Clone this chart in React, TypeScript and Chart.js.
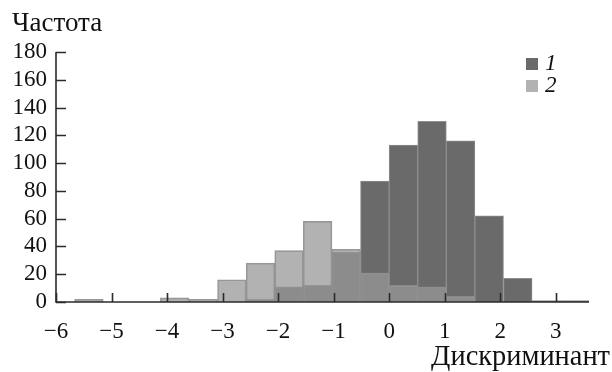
import React, { useEffect, useRef } from "react";
import { Chart, registerables } from "chart.js";

Chart.register(...registerables);

// Histogram bins (centres, bin width ≈ 0.515)
const binCenters = [
  -5.4075, -4.8925, -4.3775, -3.8625, -3.3475, -2.8325, -2.3175, -1.8025, -1.2875,
  -0.7725, -0.2575, 0.2575, 0.7725, 1.2875, 1.8025, 2.3175, 2.8325, 3.3475,
];
const series1 = [0, 0, 0, 0, 0, 0, 2, 11, 12, 36, 87, 113, 130, 116, 62, 17, 1, 1];
const series2 = [2, 0, 0, 3, 2, 16, 28, 37, 58, 38, 21, 12, 11, 4, 0, 0, 0, 0];
const seriesLabels = ["1", "2"];
const xTicks = [-6, -5, -4, -3, -2, -1, 0, 1, 2, 3];
const yTicks = [0, 20, 40, 60, 80, 100, 120, 140, 160, 180];
const xMin = -6;
const xMax = 3.6;
const yMax = 180;
const yTitle = "Частота";
const xTitle = "Дискриминант";

const FONT = "'Liberation Serif', 'Times New Roman', serif";
const DARK = "#6a6a6a";
const LIGHT_FILL = "rgba(152,152,152,0.75)";
const LIGHT_SWATCH = "#b2b2b2";
const AXIS = "#2b2b2b";

const fmt = (v: number) => (v < 0 ? "\u2212" + Math.abs(v) : String(v));

const decor = {
  id: "decor",
  afterDatasetsDraw(chart: any) {
    const { ctx, chartArea, scales } = chart;
    const x = scales.x;
    const y = scales.y;
    ctx.save();
    ctx.strokeStyle = AXIS;
    ctx.lineWidth = 1.6;
    // axes
    ctx.beginPath();
    ctx.moveTo(chartArea.left, y.getPixelForValue(yMax));
    ctx.lineTo(chartArea.left, chartArea.bottom);
    ctx.lineTo(x.getPixelForValue(xMax), chartArea.bottom);
    ctx.stroke();
    // inward ticks
    ctx.beginPath();
    for (const v of xTicks) {
      const px = Math.round(x.getPixelForValue(v)) + 0.5;
      ctx.moveTo(px, chartArea.bottom);
      ctx.lineTo(px, chartArea.bottom - 9);
    }
    for (const v of yTicks) {
      const py = Math.round(y.getPixelForValue(v)) + 0.5;
      ctx.moveTo(chartArea.left, py);
      ctx.lineTo(chartArea.left + 10, py);
    }
    ctx.stroke();
    // legend
    const lx = chartArea.right - 63;
    const ly = chartArea.top + 6;
    const swatches = [DARK, LIGHT_SWATCH];
    ctx.font = "italic 23px " + FONT;
    ctx.textBaseline = "middle";
    ctx.textAlign = "left";
    swatches.forEach((c, i) => {
      const yy = ly + i * 22;
      ctx.fillStyle = c;
      ctx.fillRect(lx, yy, 12, 12);
      ctx.fillStyle = "#111";
      ctx.fillText(seriesLabels[i], lx + 19, yy + 6);
    });
    // axis titles
    ctx.fillStyle = "#111";
    ctx.textBaseline = "alphabetic";
    ctx.textAlign = "left";
    ctx.font = "27px " + FONT;
    ctx.fillText(yTitle, 12, 31);
    ctx.textAlign = "right";
    ctx.font = "28.4px " + FONT;
    ctx.fillText(xTitle, 610, 365);
    ctx.restore();
  },
};

export default function App() {
  const ref = useRef<HTMLCanvasElement | null>(null);
  useEffect(() => {
    if (!ref.current) return;
    const chart = new Chart(ref.current, {
      type: "bar",
      data: {
        datasets: [
          {
            label: seriesLabels[0],
            data: binCenters.map((c, i) => ({ x: c, y: series1[i] })),
            backgroundColor: DARK,
            borderColor: "#8e8e8e",
            borderWidth: 1,
            grouped: false,
            order: 2,
            barPercentage: 1,
            categoryPercentage: 1,
          },
          {
            label: seriesLabels[1],
            data: binCenters.map((c, i) => ({ x: c, y: series2[i] === 0 ? null : series2[i] })),
            backgroundColor: LIGHT_FILL,
            borderColor: "rgba(140,140,140,0.9)",
            borderWidth: 1,
            grouped: false,
            order: 1,
            barPercentage: 1,
            categoryPercentage: 1,
          },
        ],
      } as any,
      options: {
        animation: false,
        responsive: false,
        maintainAspectRatio: false,
        layout: { padding: { left: 12, right: 23, top: 52, bottom: 0 } },
        plugins: { legend: { display: false }, tooltip: { enabled: false }, title: { display: false } },
        scales: {
          x: {
            type: "linear",
            min: xMin,
            max: xMax,
            offset: false,
            grid: { display: false, drawTicks: false },
            border: { display: false },
            afterBuildTicks: (s: any) => {
              s.ticks = xTicks.map((v) => ({ value: v }));
            },
            afterFit: (s: any) => {
              s.height = 70;
            },
            ticks: {
              padding: 16,
              color: "#111",
              font: { family: FONT, size: 23 },
              maxRotation: 0,
              autoSkip: false,
              callback: (v: any) => fmt(Number(v)),
            },
          },
          y: {
            type: "linear",
            min: 0,
            max: yMax,
            grid: { display: false, drawTicks: false },
            border: { display: false },
            afterBuildTicks: (s: any) => {
              s.ticks = yTicks.map((v) => ({ value: v }));
            },
            afterFit: (s: any) => {
              s.width = 44;
            },
            ticks: {
              padding: 9,
              color: "#111",
              autoSkip: false,
              font: { family: FONT, size: 23 },
              callback: (v: any) => String(v),
            },
          },
        },
      } as any,
      plugins: [decor],
    });
    return () => chart.destroy();
  }, []);
  return (
    <div style={{ position: "fixed", left: 0, top: 0, width: 612, height: 372, background: "#fff" }}>
      <canvas ref={ref} width={612} height={372} style={{ width: 612, height: 372, display: "block" }} />
    </div>
  );
}
